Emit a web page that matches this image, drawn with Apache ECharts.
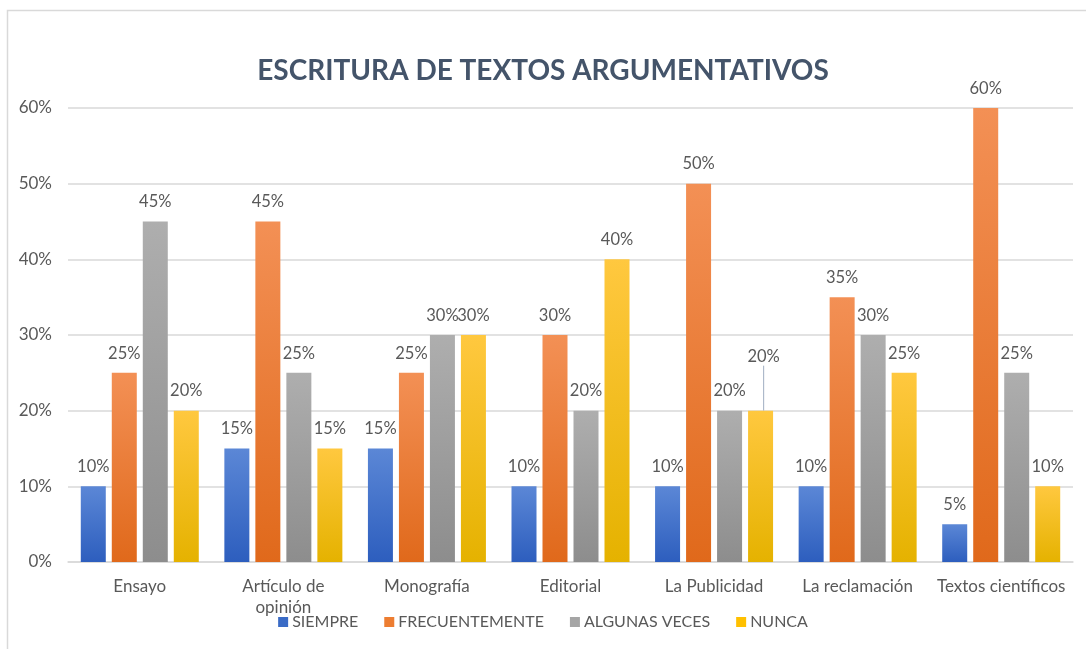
<!DOCTYPE html>
<html>
<head>
<meta charset="utf-8">
<script src="https://cdn.jsdelivr.net/npm/echarts@6/dist/echarts.min.js"></script>
<style>
  html, body { margin: 0; padding: 0; background: #fff; }
  #chart { width: 1086px; height: 649px; }
</style>
</head>
<body>
<div id="chart"></div>
<script>
const categories = ['Ensayo', 'Artículo de\nopinión', 'Monografía', 'Editorial', 'La Publicidad', 'La reclamación', 'Textos científicos'];
const siempre = [10, 15, 15, 10, 10, 10, 5];
const frecuentemente = [25, 45, 25, 30, 50, 35, 60];
const algunasVeces = [45, 25, 30, 20, 20, 30, 25];
const nunca = [20, 15, 30, 40, 20, 25, 10];
const yTicks = [0, 10, 20, 30, 40, 50, 60];

const font = 'Lato, "Open Sans", sans-serif';
const textColor = '#595959';

function grad(top, bottom) {
    return new echarts.graphic.LinearGradient(0, 0, 0, 1, [
        { offset: 0, color: top },
        { offset: 1, color: bottom }
    ]);
}

function makeSeries(name, data, top, bottom) {
    return {
        name: name,
        type: 'bar',
        data: data,
        barWidth: 25,
        barGap: '24%',
        itemStyle: { color: grad(top, bottom) },
        label: {
            show: true,
            position: 'top',
            distance: 11,
            formatter: '{c}%',
            color: textColor,
            fontFamily: font,
            fontSize: 16.5
        },
        labelLine: { show: false },
        emphasis: { disabled: true }
    };
}

const series = [
    makeSeries('SIEMPRE', siempre, '#5B87D6', '#2D5EBE'),
    makeSeries('FRECUENTEMENTE', frecuentemente, '#F39055', '#E0691B'),
    makeSeries('ALGUNAS VECES', algunasVeces, '#AEAEAE', '#8D8D8D'),
    makeSeries('NUNCA', nunca, '#FFC83F', '#E5B200')
];
// La Publicidad / NUNCA: label moved up with a leader line
series[3].data = nunca.map((v, i) => i === 4
    ? { value: v, labelLine: { show: true, lineStyle: { color: '#ADB9CA', width: 1.2 } } }
    : v);
series[3].labelLayout = function (params) {
    if (params.dataIndex === 4) {
        return { dy: -34, dx: 3 };
    }
};

const legendColors = ['#3A6BC6', '#ED7D31', '#A5A5A5', '#FFC000'];

const chart = echarts.init(document.getElementById('chart'));
chart.setOption({
    animation: false,
    title: {
        text: 'ESCRITURA DE TEXTOS ARGUMENTATIVOS',
        left: 'center',
        top: 52,
        textStyle: {
            color: '#44546A',
            fontFamily: font,
            fontWeight: 'bold',
            fontSize: 28
        }
    },
    legend: {
        bottom: 14,
        left: 'center',
        itemWidth: 10,
        itemHeight: 10,
        itemGap: 26,
        icon: 'rect',
        textStyle: { color: textColor, fontFamily: font, fontSize: 16, padding: [0, 0, 0, -1] },
        data: series.map((s, i) => ({ name: s.name, itemStyle: { color: legendColors[i] } }))
    },
    grid: { left: 68, right: 13, top: 108, bottom: 87 },
    xAxis: {
        type: 'category',
        data: categories,
        axisLine: { lineStyle: { color: '#D9D9D9', width: 1.5 } },
        axisTick: { show: false },
        axisLabel: {
            interval: 0,
            color: textColor,
            fontFamily: font,
            fontSize: 17,
            margin: 14,
            lineHeight: 21
        }
    },
    yAxis: {
        type: 'value',
        min: yTicks[0],
        max: yTicks[yTicks.length - 1],
        interval: 10,
        axisLine: { show: false },
        axisTick: { show: false },
        splitLine: { lineStyle: { color: '#D9D9D9', width: 1.5 } },
        axisLabel: {
            color: textColor,
            fontFamily: font,
            fontSize: 17,
            margin: 16,
            formatter: '{value}%'
        }
    },
    graphic: [{
        type: 'rect',
        shape: { x: 7.5, y: 10.5, width: 1200, height: 800 },
        style: { fill: 'none', stroke: '#D9D9D9', lineWidth: 1.5 },
        silent: true
    }],
    series: series
});
</script>
</body>
</html>
